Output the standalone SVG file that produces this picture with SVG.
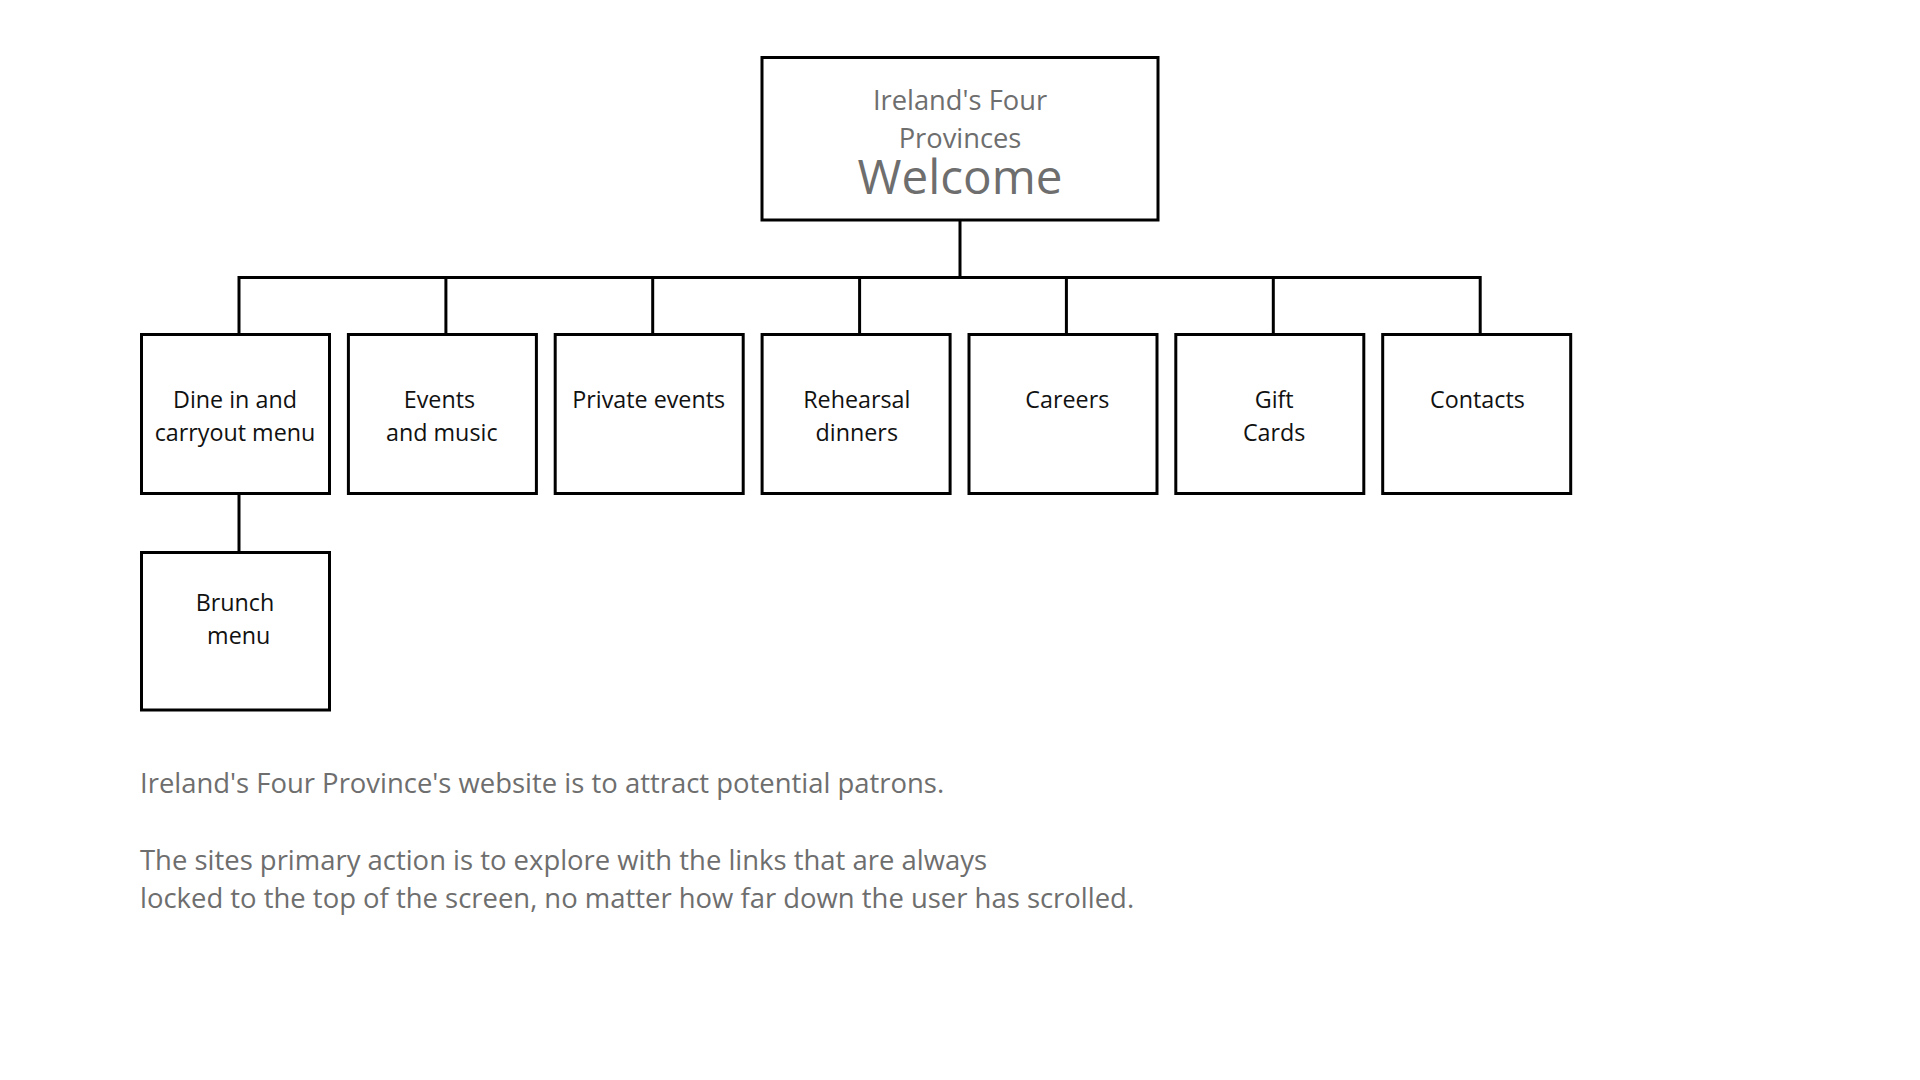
<svg xmlns="http://www.w3.org/2000/svg" width="1920" height="1080" viewBox="0 0 1920 1080">
<style>
.box{fill:#fff;stroke:#000;stroke-width:3}
.lbl{font-family:"Open Sans","Noto Sans",sans-serif;font-size:23.3px;fill:#111;text-anchor:middle}
.gray{font-family:"Open Sans","Noto Sans",sans-serif;fill:#6e6e6e}
.conn{fill:none;stroke:#000;stroke-width:3}
</style>
<rect width="1920" height="1080" fill="#fff"/>
<g id="connectors">
<line class="conn" x1="960" y1="220" x2="960" y2="277.5"/>
<line class="conn" x1="239" y1="277.5" x2="1480.2" y2="277.5"/>
<line class="conn" x1="239" y1="276" x2="239" y2="334"/>
<line class="conn" x1="445.9" y1="276" x2="445.9" y2="334"/>
<line class="conn" x1="652.7" y1="276" x2="652.7" y2="334"/>
<line class="conn" x1="859.6" y1="276" x2="859.6" y2="334"/>
<line class="conn" x1="1066.4" y1="276" x2="1066.4" y2="334"/>
<line class="conn" x1="1273.3" y1="276" x2="1273.3" y2="334"/>
<line class="conn" x1="1480.2" y1="276" x2="1480.2" y2="334"/>
<line class="conn" x1="239" y1="493" x2="239" y2="552.5"/>
</g>
<g id="welcome">
<rect class="box" x="762" y="57.5" width="396" height="162.5"/>
<text class="gray" font-size="27.3" text-anchor="middle" x="960" y="110">Ireland's Four</text>
<text class="gray" font-size="27.3" text-anchor="middle" x="960" y="147.5">Provinces</text>
<text class="gray" font-size="47.6" text-anchor="middle" x="960" y="194">Welcome</text>
</g>
<g id="dine">
<rect class="box" x="141.5" y="334.5" width="188" height="159"/>
<text class="lbl" x="235" y="408">Dine in and</text>
<text class="lbl" x="235" y="441">carryout menu</text>
</g>
<g id="events">
<rect class="box" x="348.4" y="334.5" width="188" height="159"/>
<text class="lbl" x="439.4" y="408">Events</text>
<text class="lbl" x="441.8" y="441">and music</text>
</g>
<g id="private">
<rect class="box" x="555.2" y="334.5" width="188" height="159"/>
<text class="lbl" x="648.7" y="408">Private events</text>
</g>
<g id="rehearsal">
<rect class="box" x="762.1" y="334.5" width="188" height="159"/>
<text class="lbl" x="856.8" y="408">Rehearsal</text>
<text class="lbl" x="856.8" y="441">dinners</text>
</g>
<g id="careers">
<rect class="box" x="969" y="334.5" width="188" height="159"/>
<text class="lbl" x="1067.3" y="408">Careers</text>
</g>
<g id="gift">
<rect class="box" x="1175.8" y="334.5" width="188" height="159"/>
<text class="lbl" x="1274.2" y="408">Gift</text>
<text class="lbl" x="1274.2" y="441">Cards</text>
</g>
<g id="contacts">
<rect class="box" x="1382.7" y="334.5" width="188" height="159"/>
<text class="lbl" x="1477.4" y="408">Contacts</text>
</g>
<g id="brunch">
<rect class="box" x="141.5" y="552.5" width="188" height="157.5"/>
<text class="lbl" x="235" y="611">Brunch</text>
<text class="lbl" x="238.7" y="644">menu</text>
</g>
<g id="description" class="gray" font-size="27.45">
<text x="140" y="793">Ireland's Four Province's website is to attract potential patrons.</text>
<text x="140" y="870">The sites primary action is to explore with the links that are always</text>
<text x="140" y="908">locked to the top of the screen, no matter how far down the user has scrolled.</text>
</g>
</svg>
